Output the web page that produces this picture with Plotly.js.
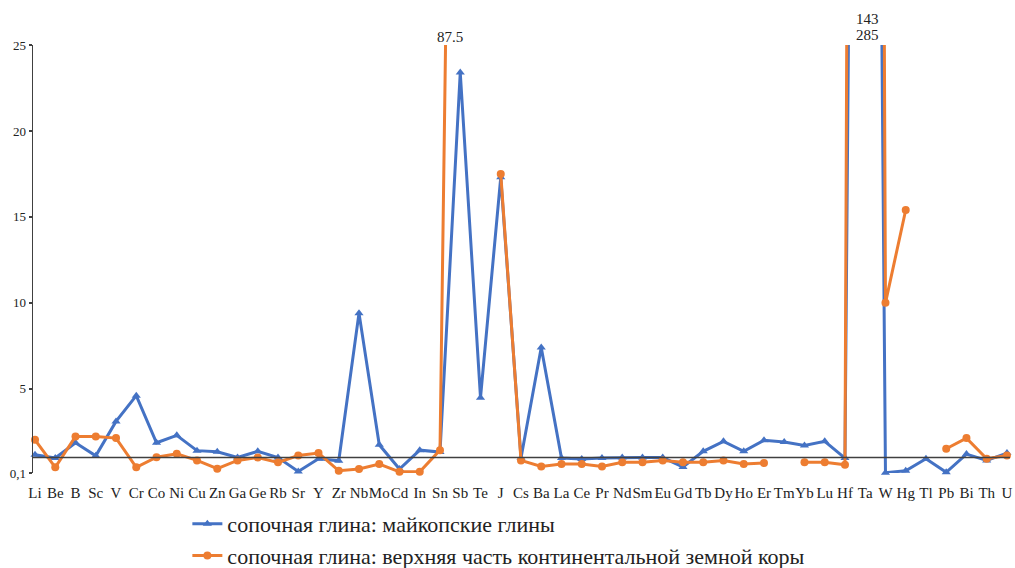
<!DOCTYPE html>
<html>
<head>
<meta charset="utf-8">
<script src="https://cdn.plot.ly/plotly-3.0.1.min.js"></script>
<style>html,body{margin:0;padding:0;background:#fff}#chart{width:1015px;height:568px}</style>
</head>
<body>
<div id="chart"></div>
<script>
const elements = ["Li","Be","B","Sc","V","Cr","Co","Ni","Cu","Zn","Ga","Ge","Rb","Sr","Y","Zr","Nb","Mo","Cd","In","Sn","Sb","Te","J","Cs","Ba","La","Ce","Pr","Nd","Sm","Eu","Gd","Tb","Dy","Ho","Er","Tm","Yb","Lu","Hf","Ta","W","Hg","Tl","Pb","Bi","Th","U"];

const maikop = [1.16,0.97,1.86,1.1,3.1,4.6,1.86,2.29,1.4,1.34,1.0,1.36,1.0,0.19,0.93,0.81,9.4,1.74,0.33,1.43,1.32,23.4,4.48,17.3,0.97,7.4,0.97,0.91,0.97,1.0,1.0,1.0,0.45,1.36,1.94,1.36,2.0,1.9,1.7,1.94,0.97,143,0.12,0.23,0.93,0.14,1.2,0.83,1.26];

const crust = [2.03,0.43,2.23,2.23,2.13,0.43,1.02,1.22,0.83,0.35,0.83,1.0,0.72,1.12,1.26,0.23,0.33,0.62,0.17,0.17,1.43,87.5,null,17.5,0.83,0.48,0.62,0.62,0.48,0.72,0.72,0.83,0.72,0.72,0.83,0.62,0.68,null,0.72,0.72,0.58,285,10,15.4,null,1.51,2.13,0.93,1.12];

const seriesNames = ["сопочная глина: майкопские глины","сопочная глина: верхняя часть континентальной земной коры"];
const yTickVals = [0.1,5,10,15,20,25];
const yTickText = ["0,1","5","10","15","20","25"];
const refLevel = 1;

const FONT = "'Liberation Serif', 'Times New Roman', serif";
const idx = elements.map((_, i) => i);

const traces = [
  {x: idx, y: maikop, name: seriesNames[0], type: "scatter", mode: "lines+markers",
   line: {color: "#4472C4", width: 3}, marker: {symbol: "triangle-up", size: 8, color: "#4472C4"},
   cliponaxis: false, connectgaps: false},
  {x: idx, y: crust, name: seriesNames[1], type: "scatter", mode: "lines+markers",
   line: {color: "#ED7D31", width: 3}, marker: {symbol: "circle", size: 8, color: "#ED7D31"},
   cliponaxis: false, connectgaps: false}
];

const sbI = elements.indexOf("Sb"), taI = elements.indexOf("Ta");
const layout = {
  width: 1015, height: 568,
  margin: {l: 33, r: 5, t: 45, b: 95},
  paper_bgcolor: "#fff", plot_bgcolor: "#fff",
  font: {family: FONT, color: "#222", size: 14},
  showlegend: true,
  legend: {x: 0.158, xref: "paper", y: 0.1144, yref: "container", xanchor: "left", yanchor: "top", orientation: "v",
           font: {family: FONT, size: 22, color: "#222"}, bgcolor: "rgba(0,0,0,0)", tracegroupgap: 0},
  xaxis: {range: [-0.1, 48.15], tickmode: "array", tickvals: idx, ticktext: elements, tickangle: 0,
          showgrid: false, zeroline: false, showline: false, ticks: "outside", ticklen: 6,
          tickcolor: "rgba(0,0,0,0)", tickfont: {family: FONT, size: 15, color: "#222"}, fixedrange: true},
  yaxis: {range: [0.1, 25], tickmode: "array", tickvals: yTickVals, ticktext: yTickText,
          showgrid: false, zeroline: false, showline: true, linecolor: "#404040", linewidth: 1.5,
          ticks: "outside", ticklen: 3, tickcolor: "#404040", tickwidth: 1.5,
          tickfont: {family: FONT, size: 13, color: "#222"}, fixedrange: true},
  shapes: [{type: "line", xref: "paper", yref: "y", x0: 0, x1: 1, y0: refLevel, y1: refLevel,
            line: {color: "#404040", width: 1.5}}],
  annotations: [
    {xref: "x", yref: "paper", x: sbI - 0.5, y: 1.019, yanchor: "middle", text: String(crust[sbI]), showarrow: false,
     font: {family: FONT, size: 15, color: "#222"}},
    {xref: "x", yref: "paper", x: taI + 0.1, y: 1.061, yanchor: "middle", text: String(maikop[taI]), showarrow: false,
     font: {family: FONT, size: 15, color: "#222"}},
    {xref: "x", yref: "paper", x: taI + 0.1, y: 1.023, yanchor: "middle", text: String(crust[taI]), showarrow: false,
     font: {family: FONT, size: 15, color: "#222"}}
  ]
};

Plotly.newPlot("chart", traces, layout, {staticPlot: true, displayModeBar: false});
</script>
</body>
</html>
